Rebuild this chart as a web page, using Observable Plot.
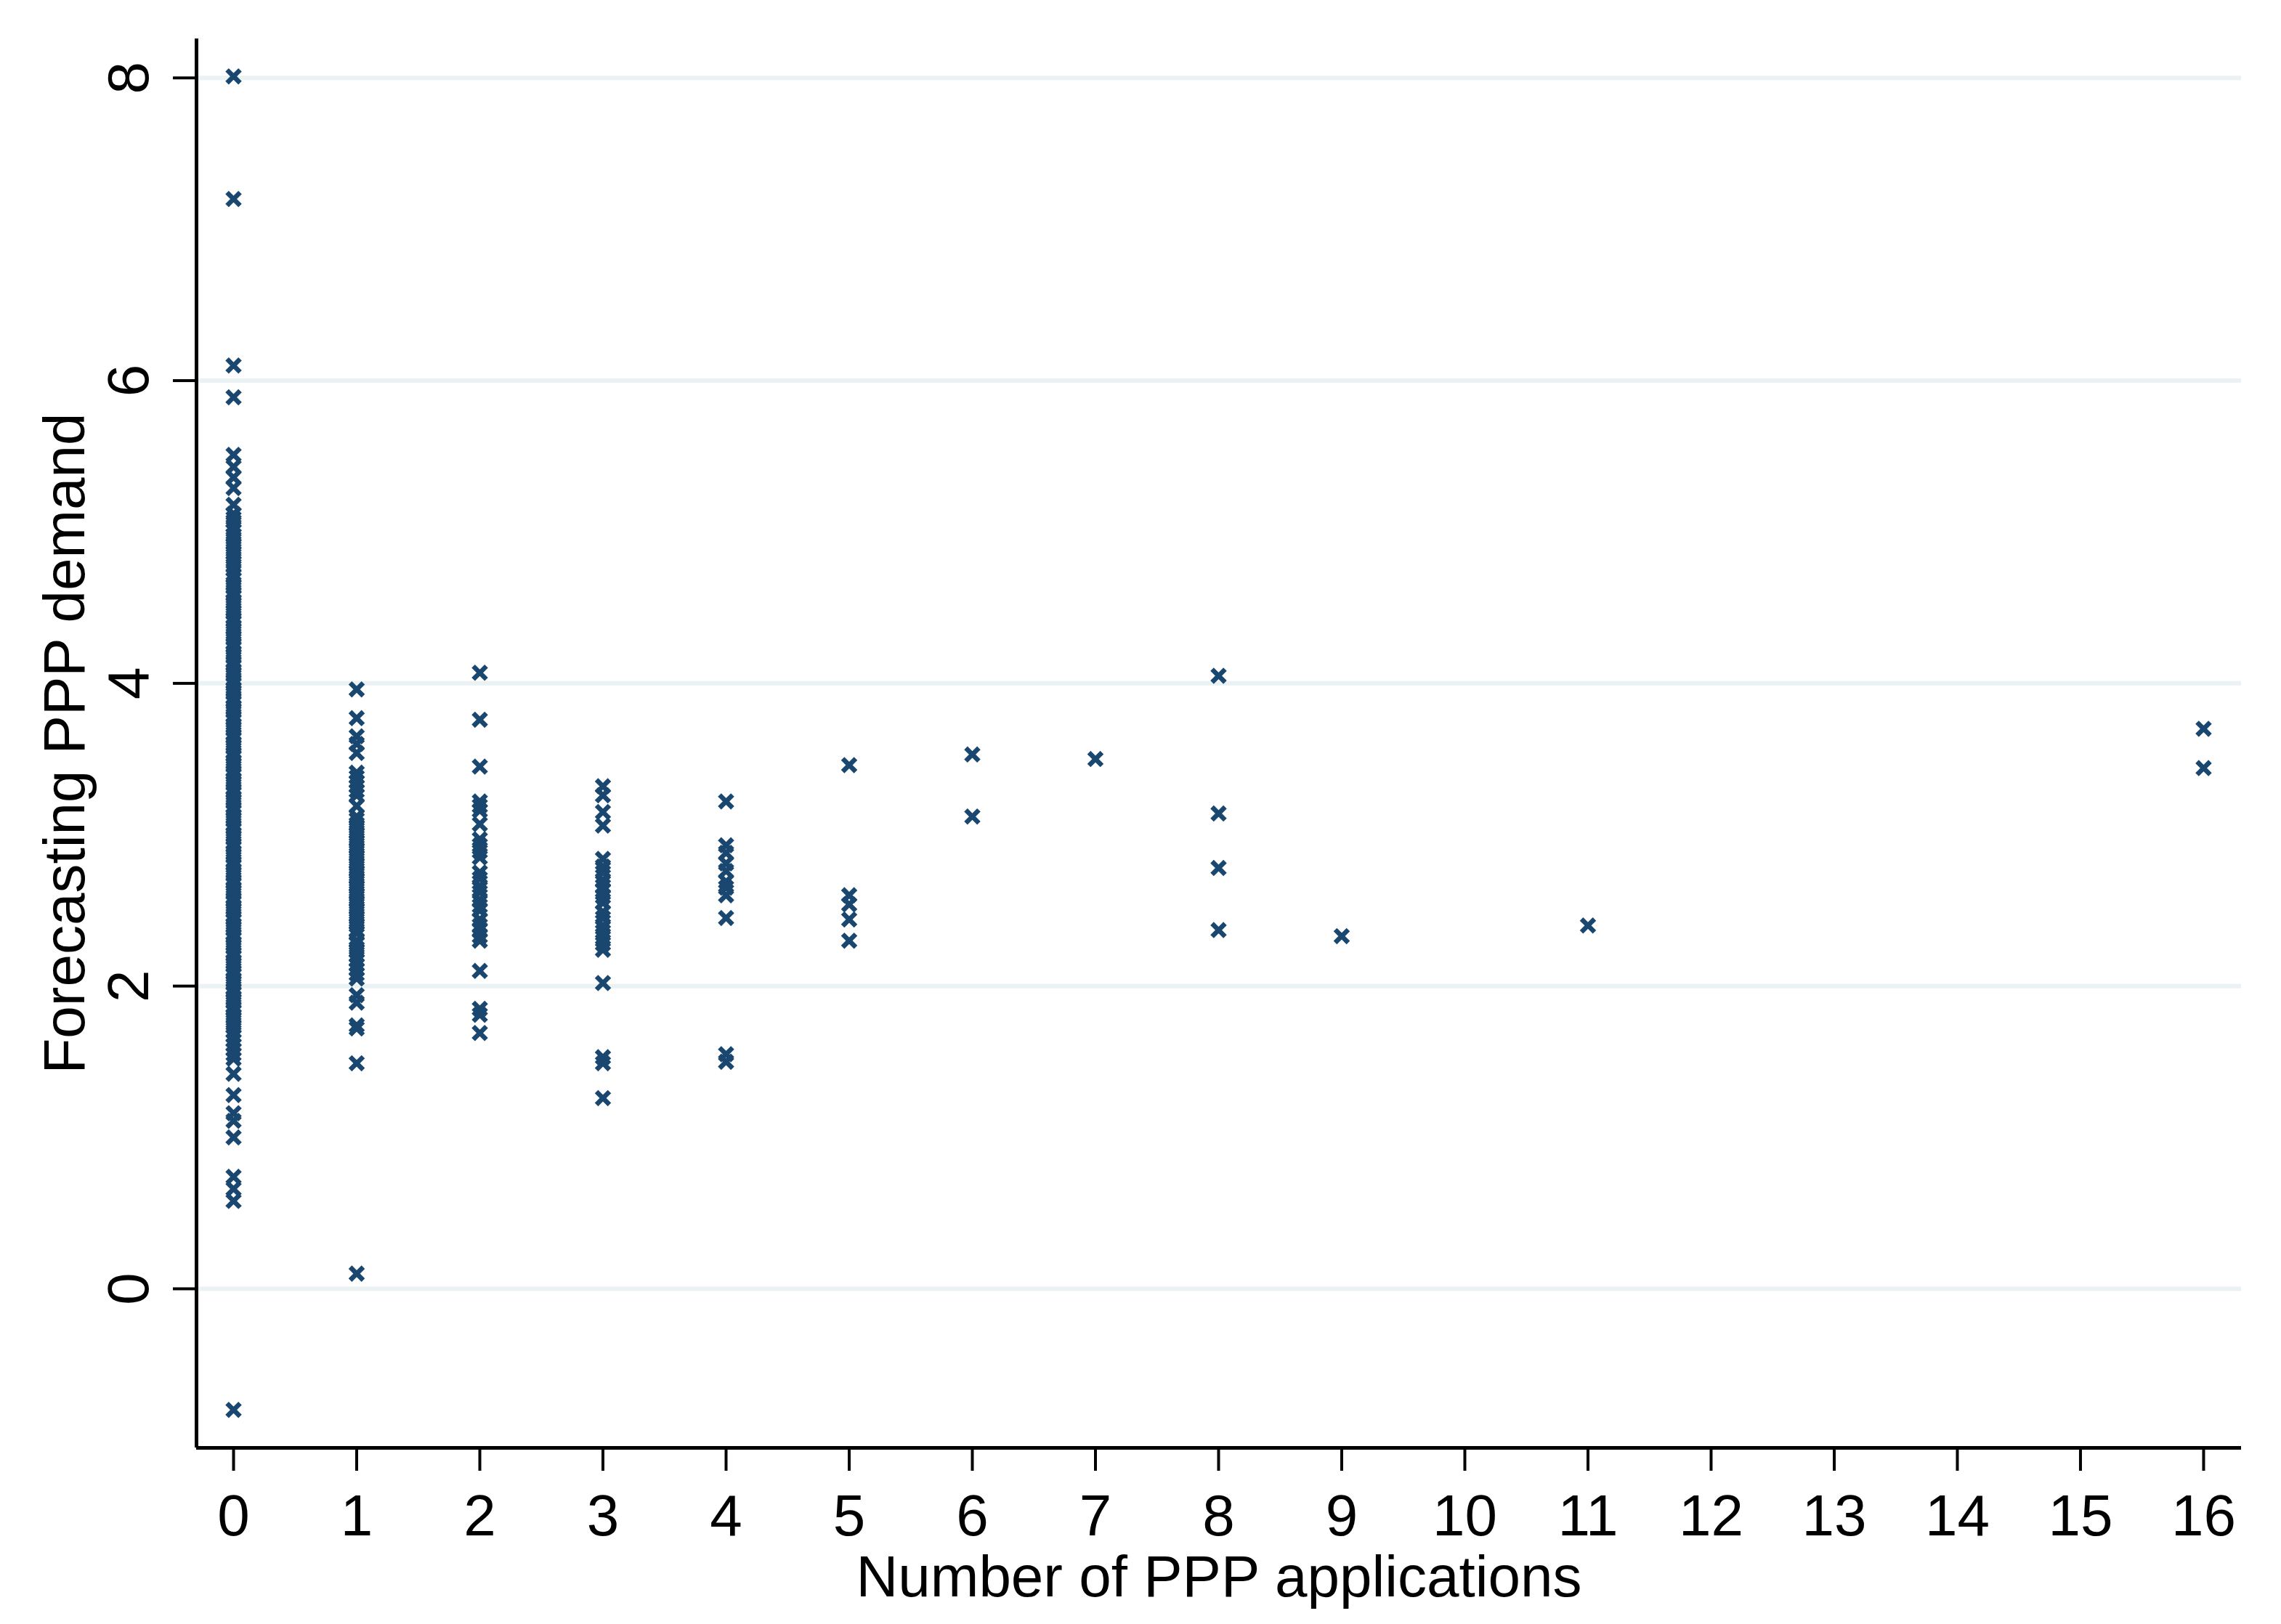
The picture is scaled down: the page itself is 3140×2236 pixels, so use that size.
<!DOCTYPE html>
<html>
<head>
<meta charset="utf-8">
<script src="https://cdn.jsdelivr.net/npm/d3@7"></script>
<script src="https://cdn.jsdelivr.net/npm/@observablehq/plot@0.6"></script>
<style>
  html, body { margin: 0; padding: 0; background: #ffffff; }
  #chart svg { display: block; }
</style>
</head>
<body>
<div id="chart"></div>
<script>
// ---- data ----
const xTicks = [0, 1, 2, 3, 4, 5, 6, 7, 8, 9, 10, 11, 12, 13, 14, 15, 16];
const yTicks = [0, 2, 4, 6, 8];
const xTitle = "Number of PPP applications";
const yTitle = "Forecasting PPP demand";

const demandAt0 = [
  8.01, 7.20, 6.10, 5.89, 5.51, 5.43, 5.36, 5.29, 5.18,
  5.12, 5.09, 5.07, 5.04, 5.01, 4.98, 4.96, 4.93, 4.91, 4.88, 4.86, 4.83, 4.80, 4.78, 4.75,
  4.71, 4.69, 4.66, 4.64, 4.61, 4.59, 4.57, 4.54, 4.52, 4.49, 4.47, 4.44, 4.42, 4.40, 4.37,
  4.35, 4.32, 4.30, 4.27, 4.25, 4.23, 4.20, 4.18, 4.15, 4.13, 4.11, 4.08, 4.06, 4.03, 4.01,
  3.99, 3.96, 3.94, 3.91, 3.89, 3.87, 3.84, 3.82, 3.79, 3.77, 3.75, 3.72, 3.70, 3.67, 3.65,
  3.63, 3.60, 3.58, 3.55, 3.53, 3.51, 3.48, 3.46, 3.43, 3.41, 3.39, 3.36, 3.34, 3.31, 3.29,
  3.27, 3.24, 3.22, 3.19, 3.17, 3.15, 3.12, 3.10, 3.07, 3.05, 3.03, 3.00, 2.98, 2.95, 2.93,
  2.91, 2.88, 2.86, 2.83, 2.81, 2.79, 2.76, 2.74, 2.71, 2.69, 2.67, 2.64, 2.62, 2.59, 2.57,
  2.55, 2.52, 2.50, 2.47, 2.45, 2.43, 2.40, 2.38, 2.35, 2.33, 2.31, 2.28, 2.26, 2.23, 2.21,
  2.19, 2.16, 2.14, 2.11, 2.09, 2.07, 2.04, 2.02, 1.99, 1.97, 1.95, 1.92, 1.90, 1.87, 1.85,
  1.83, 1.80, 1.78, 1.75, 1.73, 1.70, 1.67, 1.64, 1.61, 1.58, 1.55, 1.52,
  1.42, 1.28, 1.16, 1.11, 1.00, 0.74, 0.66, 0.58, -0.80
];
const demandAt1 = [
  3.96, 3.77, 3.65, 3.60, 3.54,
  3.41, 3.38, 3.35, 3.32, 3.29, 3.26, 3.19, 3.12, 3.10, 3.07, 3.05, 3.02, 3.00, 2.97, 2.95,
  2.92, 2.90, 2.87, 2.85, 2.82, 2.80, 2.77, 2.75, 2.72, 2.70, 2.67, 2.65, 2.62, 2.60, 2.57,
  2.55, 2.52, 2.50, 2.47, 2.45, 2.42, 2.40, 2.37, 2.35, 2.30, 2.28, 2.25, 2.23, 2.20, 2.17,
  2.14, 2.11, 2.08, 2.05,
  1.94, 1.89, 1.74, 1.72, 1.49, 0.10
];
const demandAt2 = [
  4.07, 3.76, 3.45, 3.22, 3.19, 3.16, 3.07, 2.97, 2.93, 2.89, 2.85,
  2.75, 2.71, 2.66, 2.62, 2.57, 2.53, 2.50, 2.44, 2.40, 2.37, 2.33, 2.30,
  2.10, 1.85, 1.81, 1.69
];
const demandAt3 = [
  3.32, 3.26, 3.15, 3.06, 2.84, 2.79, 2.75, 2.70, 2.66, 2.63, 2.59, 2.55, 2.49, 2.45,
  2.40, 2.36, 2.32, 2.28, 2.24, 2.02, 1.53, 1.49, 1.26
];
const demandAt4 = [3.22, 2.93, 2.88, 2.81, 2.76, 2.69, 2.65, 2.60, 2.45, 1.55, 1.50];
const demandAt5 = [3.46, 2.60, 2.54, 2.44, 2.30];
const demandAt6 = [3.53, 3.12];
const demandAt7 = [3.50];
const demandAt8 = [4.05, 3.14, 2.78, 2.37];
const demandAt9 = [2.33];
const demandAt11 = [2.40];
const demandAt16 = [3.70, 3.44];

const groups = [
  [0, demandAt0], [1, demandAt1], [2, demandAt2], [3, demandAt3], [4, demandAt4],
  [5, demandAt5], [6, demandAt6], [7, demandAt7], [8, demandAt8], [9, demandAt9],
  [11, demandAt11], [16, demandAt16]
];
const points = groups.flatMap(([n, ys]) => ys.map(v => ({apps: n, demand: v})));

const navy = "#1a476f";
const gridColor = "#eaf2f3";

const chart = Plot.plot({
  width: 3140,
  height: 2236,
  marginLeft: 270,
  marginRight: 55,
  marginTop: 53,
  marginBottom: 243,
  style: {fontFamily: "'Liberation Sans', Arial, Helvetica, sans-serif", background: "#ffffff", color: "#000000"},
  x: {domain: [-0.301, 16.307]},
  y: {domain: [-1.051, 8.258]},
  marks: [
    Plot.gridY(yTicks, {stroke: gridColor, strokeOpacity: 1, strokeWidth: 6}),
    Plot.dot(points, {x: "apps", y: "demand", symbol: "times", r: 8.2, stroke: navy, strokeWidth: 6.5}),
    Plot.ruleX([-0.301], {stroke: "#000", strokeWidth: 5}),
    Plot.ruleY([-1.051], {stroke: "#000", strokeWidth: 5}),
    Plot.axisX({ticks: xTicks, tickSize: 32, tickPadding: 32, fontSize: 80, strokeWidth: 4, tickFormat: d => String(d), label: null}),
    Plot.axisY({ticks: yTicks, tickSize: 32, tickPadding: 35, tickRotate: -90, fontSize: 80, strokeWidth: 4, tickFormat: d => String(d), label: null}),
    Plot.text([xTitle], {frameAnchor: "bottom", dy: 204, lineAnchor: "bottom", textAnchor: "middle", fontSize: 80, fill: "#000"}),
    Plot.text([yTitle], {frameAnchor: "left", dx: -155, rotate: -90, lineAnchor: "bottom", textAnchor: "middle", fontSize: 80, fill: "#000"})
  ]
});
document.getElementById("chart").appendChild(chart);
</script>
</body>
</html>
